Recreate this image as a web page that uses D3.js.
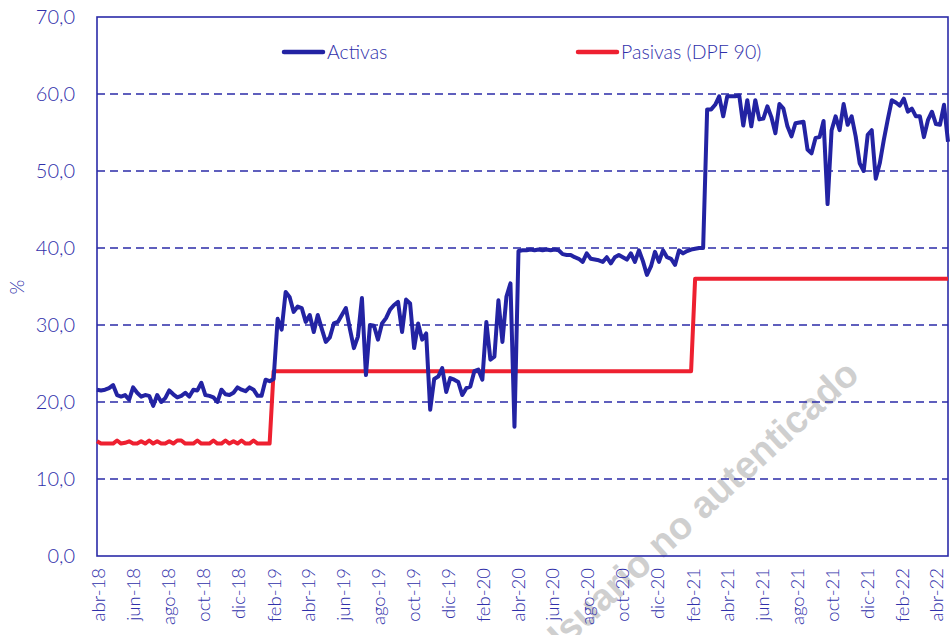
<!DOCTYPE html>
<html><head><meta charset="utf-8">
<script src="https://cdn.jsdelivr.net/npm/d3@7"></script>
<style>
body{margin:0;background:#fff}
svg text{font-family:Lato,"Open Sans",sans-serif;}
</style>
</head><body>
<svg id="c" width="951" height="635"></svg>
<script>
// weekly series, first observation date
const startDate = "2018-03-30";
const activas = [
 21.6,21.5,21.6,21.8,22.2,20.9,20.7,20.9,20.3,21.9,
 21.2,20.7,20.9,20.8,19.5,20.9,20.0,20.5,21.5,21.0,
 20.6,20.8,21.2,20.7,21.6,21.5,22.5,20.9,20.8,20.6,
 20.0,21.6,21.0,20.9,21.2,21.9,21.6,21.4,21.9,21.6,
 20.8,20.8,22.9,22.7,23.0,30.8,29.4,34.3,33.6,31.7,
 32.4,32.2,30.4,31.3,29.1,31.3,29.5,27.8,28.4,30.2,
 30.4,31.3,32.2,29.5,27.0,28.5,33.5,23.5,30.0,29.9,
 28.1,30.2,30.9,32.0,32.6,33.0,29.1,33.3,32.8,27.0,
 30.2,28.1,28.9,19.0,23.0,23.3,24.4,21.3,23.1,22.9,
 22.6,20.9,21.8,22.0,24.0,24.2,22.9,30.4,25.5,25.9,
 33.2,27.8,33.7,35.4,16.8,39.6,39.7,39.7,39.8,39.7,
 39.8,39.7,39.8,39.7,39.8,39.7,39.2,39.1,39.1,38.8,
 38.6,38.2,39.3,38.6,38.5,38.4,38.2,38.8,38.0,38.8,
 39.1,38.8,38.5,39.3,38.2,39.7,38.3,36.5,37.6,39.5,
 38.2,39.7,38.8,38.6,37.8,39.7,39.3,39.6,39.8,39.9,
 40.0,40.0,58.0,58.0,58.6,59.7,57.1,59.7,59.7,59.7,
 59.8,55.9,59.2,55.8,59.2,56.7,56.8,58.4,57.0,54.9,
 58.7,58.1,55.8,54.5,56.2,56.3,56.4,52.8,52.3,54.3,
 54.4,56.5,45.7,55.3,57.1,55.3,58.7,56.0,57.1,54.5,
 51.0,50.0,54.7,55.3,49.0,51.0,54.0,56.7,59.2,58.9,
 58.5,59.4,57.7,58.1,57.1,57.1,54.4,56.6,57.7,56.1,
 56.0,58.6,53.8
];
// Pasivas: week index and value at each vertex
const pasivasWeek = [
 0,1,2,3,4,5,6,7,8,9,10,11,12,13,14,15,16,17,18,19,20,21,
 22,23,24,25,26,27,28,29,30,31,32,33,34,35,36,37,38,39,40,41,42,43,
 44,148,149,212
];
const pasivasValues = [
 14.9,14.6,14.6,14.6,14.6,15.0,14.6,14.7,14.9,14.6,14.6,14.9,14.6,15.0,14.6,14.9,14.6,14.6,14.9,14.6,15.0,15.0,
 14.6,14.6,14.6,15.0,14.6,14.6,14.6,15.0,14.6,14.6,15.0,14.6,14.9,14.6,15.0,14.6,14.6,15.0,14.6,14.6,14.6,14.6,
 24.0,24.0,36.0,36.0
];
const tickDates = ["2018-04-01","2018-06-01","2018-08-01","2018-10-01","2018-12-01",
 "2019-02-01","2019-04-01","2019-06-01","2019-08-01","2019-10-01","2019-12-01",
 "2020-02-01","2020-04-01","2020-06-01","2020-08-01","2020-10-01","2020-12-01",
 "2021-02-01","2021-04-01","2021-06-01","2021-08-01","2021-10-01","2021-12-01",
 "2022-02-01","2022-04-01"];
const tickLabels = ["abr-18","jun-18","ago-18","oct-18","dic-18",
 "feb-19","abr-19","jun-19","ago-19","oct-19","dic-19",
 "feb-20","abr-20","jun-20","ago-20","oct-20","dic-20",
 "feb-21","abr-21","jun-21","ago-21","oct-21","dic-21",
 "feb-22","abr-22"];
const yTicks = [0,10,20,30,40,50,60,70];
const seriesNames = ["Activas","Pasivas (DPF 90)"];

const axisColor = "#2b2ba8", textColor = "#3030aa";
const blue = "#2323a3", red = "#ee2030";

const parse = d3.utcParse("%Y-%m-%d");
const t0 = parse(startDate);
const weekDate = i => d3.utcDay.offset(t0, 7*i);

const L = 97, R = 948, T = 17, B = 556;
const x = d3.scaleUtc().domain([t0, weekDate(activas.length-1)]).range([L, R]);
const y = d3.scaleLinear().domain([0,70]).range([B, T]);

const svg = d3.select("#c");

// watermark
svg.append("text")
  .attr("transform","translate(861,377) rotate(-42.5)")
  .attr("text-anchor","end")
  .style("font-family","'Liberation Sans',Arial,sans-serif")
  .style("font-weight","bold")
  .style("font-size","38px")
  .attr("fill","#cfcfcf")
  .text("Usuario no autenticado");

// grid lines
svg.append("g").selectAll("line").data(yTicks.filter(v => v>0 && v<70)).join("line")
  .attr("x1",L).attr("x2",R).attr("y1",d=>y(d)).attr("y2",d=>y(d))
  .attr("stroke",axisColor).attr("stroke-width",1.4).attr("stroke-dasharray","8,5");

// frame
svg.append("rect").attr("x",L).attr("y",T).attr("width",R-L).attr("height",B-T)
  .attr("fill","none").attr("stroke",axisColor).attr("stroke-width",1.6);

// y axis labels
const yAxis = d3.axisLeft(y).tickValues(yTicks).tickSize(0).tickPadding(22)
  .tickFormat(d => d3.format(".1f")(d).replace(".", ","));
const gy = svg.append("g").attr("transform",`translate(${L},0)`).call(yAxis);
gy.select(".domain").remove();
gy.selectAll("text").attr("fill",textColor).style("font-size","20px")
  .style("font-weight","300")
  .style("font-family","Lato,'Open Sans',sans-serif");

// x axis labels
const xAxis = d3.axisBottom(x).tickValues(tickDates.map(parse)).tickSize(0)
  .tickFormat((d,i) => tickLabels[i]);
const gx = svg.append("g").attr("transform",`translate(0,${B})`).call(xAxis);
gx.select(".domain").remove();
gx.selectAll("text")
  .attr("transform","rotate(-90)")
  .attr("x",-12).attr("y",0).attr("dy","0.36em")
  .attr("text-anchor","end")
  .attr("fill",textColor).style("font-size","18.5px")
  .style("font-weight","300")
  .style("font-family","Lato,'Open Sans',sans-serif");

// y title
svg.append("text").attr("transform","translate(24,287) rotate(-90)")
  .attr("text-anchor","middle").attr("fill",textColor).style("font-size","19px")
  .style("font-weight","300").text("%");

// lines
const line = d3.line().x(d=>x(d[0])).y(d=>y(d[1]));
svg.append("path")
  .datum(pasivasWeek.map((w,i)=>[weekDate(w), pasivasValues[i]]))
  .attr("d",line).attr("fill","none").attr("stroke",red).attr("stroke-width",4)
  .attr("stroke-linejoin","round");
svg.append("path")
  .datum(activas.map((v,i)=>[weekDate(i), v]))
  .attr("d",line).attr("fill","none").attr("stroke",blue).attr("stroke-width",4)
  .attr("stroke-linejoin","round");

// legend
const leg = [{name:seriesNames[0],color:blue,x:284},{name:seriesNames[1],color:red,x:578}];
const lg = svg.append("g").selectAll("g").data(leg).join("g")
  .attr("transform",d=>`translate(${d.x},52)`);
lg.append("line").attr("x1",0).attr("x2",39).attr("stroke",d=>d.color)
  .attr("stroke-width",4.5).attr("stroke-linecap","round");
lg.append("text").attr("x",43).attr("dy","0.36em").attr("fill",textColor)
  .style("font-size","19.5px").style("font-weight","300").text(d=>d.name);
</script>
</body></html>
